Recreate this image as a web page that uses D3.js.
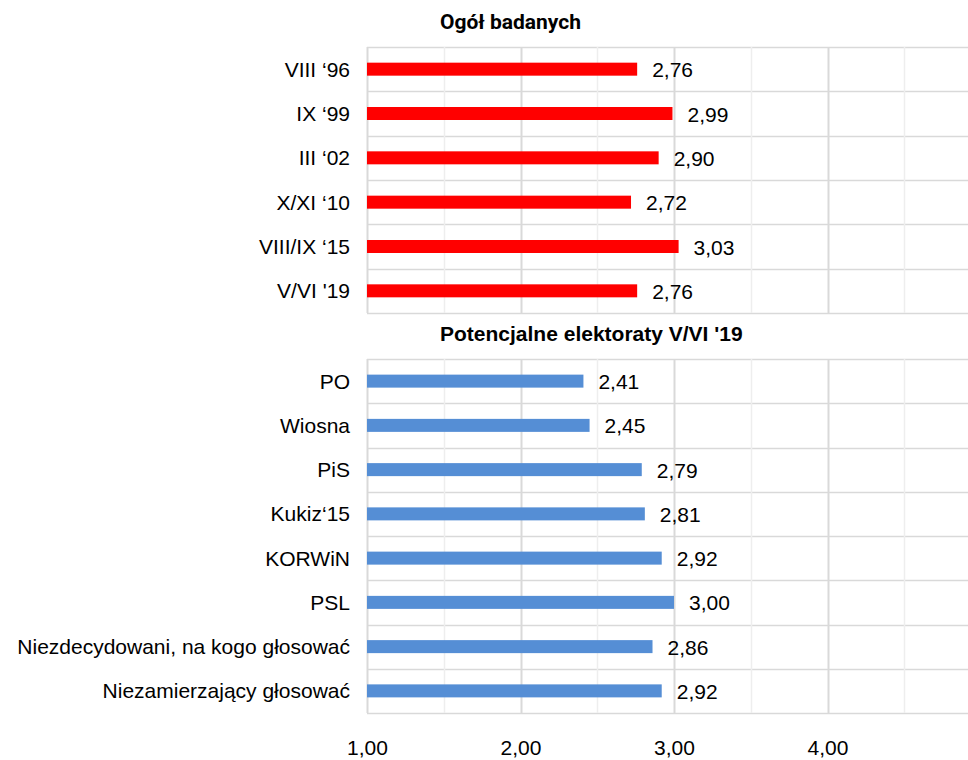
<!DOCTYPE html>
<html>
  <head>
    <meta charset='utf-8'>
    <title>Ogół badanych</title>
    <script src='https://d3js.org/d3.v7.min.js'></script>
    <style>
      body { margin: 0; background: #fff; }
      text { font-family: 'Liberation Sans', Arial, sans-serif; fill: #000; }
    </style>
  </head>

  <body>
    <div id='grafico'></div>
    <script>
    // Datos
    const ogolKategorie = ["VIII ‘96", "IX ‘99", "III ‘02", "X/XI ‘10", "VIII/IX ‘15", "V/VI '19"];
    const ogolWartosci  = [2.76, 2.99, 2.90, 2.72, 3.03, 2.76];

    const elektKategorie = ["PO", "Wiosna", "PiS", "Kukiz‘15", "KORWiN", "PSL",
                            "Niezdecydowani, na kogo głosować", "Niezamierzający głosować"];
    const elektWartosci  = [2.41, 2.45, 2.79, 2.81, 2.92, 3.00, 2.86, 2.92];

    const ticksX = [1, 2, 3, 4];
    const gridX  = [1, 1.5, 2, 2.5, 3, 3.5, 4, 4.5, 5];

    const width = 968, height = 760;
    const fmt = v => d3.format(".2f")(v).replace(".", ",");

    const svg = d3.select('#grafico').append('svg')
                  .attr('width', width)
                  .attr('height', height);

    // Escala horizontal común
    const x = d3.scaleLinear().domain([1, 5]).range([367, 981]);

    function panel(cats, vals, top, bottom, color, title, titleFont, titleY) {
      const y = d3.scaleBand().domain(cats).range([top, bottom]).paddingInner(0).paddingOuter(0);
      const g = svg.append('g');

      // líneas horizontales
      const bounds = cats.map(c => y(c)).concat([bottom]);
      g.selectAll('line.h').data(bounds).enter().append('line')
        .attr('x1', x(1)).attr('x2', width)
        .attr('y1', d => Math.round(d) + 0.5).attr('y2', d => Math.round(d) + 0.5)
        .attr('stroke', '#d9d9d9').attr('stroke-width', 1.5);

      // líneas verticales
      g.selectAll('line.v').data(gridX).enter().append('line')
        .attr('x1', d => Math.round(x(d)) + 0.5).attr('x2', d => Math.round(x(d)) + 0.5)
        .attr('y1', top).attr('y2', bottom)
        .attr('stroke', d => Number.isInteger(d) ? '#d9d9d9' : '#eeeeee')
        .attr('stroke-width', d => Number.isInteger(d) ? 2 : 1.5);

      const bh = 13;
      g.selectAll('rect').data(vals).enter().append('rect')
        .attr('x', x(1))
        .attr('y', (d, i) => y(cats[i]) + y.bandwidth() / 2 - bh / 2)
        .attr('width', d => x(d) - x(1))
        .attr('height', bh)
        .attr('fill', color);

      g.selectAll('text.val').data(vals).enter().append('text')
        .attr('x', d => x(d) + 15)
        .attr('y', (d, i) => y(cats[i]) + y.bandwidth() / 2 + 8)
        .style('font-size', '21px')
        .text(d => fmt(d));

      g.selectAll('text.cat').data(cats).enter().append('text')
        .attr('x', 350)
        .attr('y', d => y(d) + y.bandwidth() / 2 + 7.5)
        .attr('text-anchor', 'end')
        .style('font-size', '21px')
        .text(d => d);

      svg.append('text')
        .attr('x', 440).attr('y', titleY)
        .style('font-family', titleFont)
        .style('font-weight', 'bold')
        .style('font-size', '21px')
        .text(title);
    }

    panel(ogolKategorie, ogolWartosci, 47, 313, '#ff0000', 'Ogół badanych', 'Roboto', 29);
    panel(elektKategorie, elektWartosci, 359, 713, '#558ed5', "Potencjalne elektoraty V/VI '19", "'Liberation Sans', Arial", 341);

    // eje X
    const xAxis = d3.axisBottom(x).tickValues(ticksX).tickFormat(fmt).tickSize(0).tickPadding(0);
    const ax = svg.append('g').attr('transform', 'translate(0,740)').call(xAxis);
    ax.select('.domain').remove();
    ax.selectAll('text')
      .style('font-size', '21px')
      .style('font-family', "'Liberation Sans', Arial, sans-serif")
      .attr('fill', '#000')
      .attr('dy', '0.71em');
    </script>
  </body>
</html>
